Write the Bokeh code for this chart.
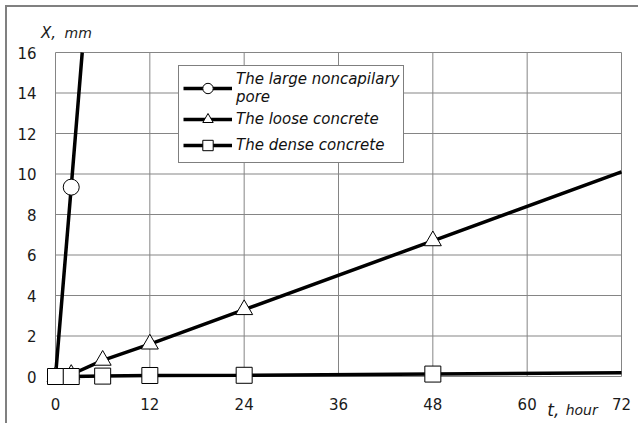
from bokeh.plotting import figure
from bokeh.models import Legend, LegendItem, Label, FixedTicker, Range1d
from bokeh.embed import file_html
from bokeh.resources import INLINE

# ---- Data ----
t_pore = [0, 2, 3.4]
x_pore = [0.0, 9.35, 16.0]
pore_marked = 2  # leading points that carry markers

t_loose = [0, 2, 6, 12, 24, 48, 72]
x_loose = [0.0, 0.1, 0.8, 1.6, 3.3, 6.7, 10.1]
loose_marked = 6

t_dense = [0, 2, 6, 12, 24, 48, 72]
x_dense = [0.0, 0.0, 0.02, 0.05, 0.06, 0.12, 0.18]
dense_marked = 6

x_ticks = [0, 12, 24, 36, 48, 60, 72]
y_ticks = [0, 2, 4, 6, 8, 10, 12, 14, 16]

names = ["The large noncapilary\npore", "The loose concrete", "The dense concrete"]

# ---- Layout (pixels) ----
W, H = 633, 418                 # canvas size (page offset 7px by CSS margin+border)
OFF = 7
PX_LEFT, PX_RIGHT = 55 - OFF, 621 - OFF   # where x=0 / x=72 sit on the canvas
PX_TOP, PX_BOTTOM = 52 - OFF, 376 - OFF   # where y=16 / y=0 sit on the canvas

x0, x1 = x_ticks[0], x_ticks[-1]
y0, y1 = y_ticks[0], y_ticks[-1]
sx = (PX_RIGHT - PX_LEFT) / (x1 - x0)
sy = (PX_BOTTOM - PX_TOP) / (y1 - y0)
xr = Range1d(x0 - PX_LEFT / sx, x1 + (W - PX_RIGHT) / sx)
yr = Range1d(y0 - (H - PX_BOTTOM) / sy, y1 + PX_TOP / sy)

FONT = "DejaVu Sans"
GRID = "#858585"
TXT = "#1a1a1a"

p = figure(width=W, height=H, output_backend="svg", toolbar_location=None,
           x_range=xr, y_range=yr, min_border=0,
           min_border_left=0, min_border_right=0, min_border_top=0, min_border_bottom=0)
p.styles = {"margin-left": "5px", "margin-top": "5px",
            "border-left": "2px solid #808080", "border-top": "2px solid #808080"}
p.background_fill_color = "white"
p.border_fill_color = "white"
p.outline_line_color = None
p.grid.visible = False

for ax in (p.xaxis[0], p.yaxis[0]):
    ax.axis_line_color = None
    ax.major_tick_line_color = None
    ax.minor_tick_line_color = None
    ax.major_tick_out = 0
    ax.major_tick_in = 0
    ax.major_label_text_font = FONT
    ax.major_label_text_font_size = "15px"
    ax.major_label_text_color = TXT
    ax.fixed_location = 0
p.xaxis.ticker = FixedTicker(ticks=x_ticks)
p.yaxis.ticker = FixedTicker(ticks=y_ticks)
p.xaxis.bounds = (x0, x1)
p.yaxis.bounds = (y0, y1)
p.yaxis.major_label_standoff = 19
p.xaxis.major_label_standoff = 21

# grid + plot-area frame, from the tick lists
p.segment(x0=x_ticks, y0=[y0] * len(x_ticks), x1=x_ticks, y1=[y1] * len(x_ticks),
          line_color=GRID, line_width=1)
p.segment(x0=[x0] * len(y_ticks), y0=y_ticks, x1=[x1] * len(y_ticks), y1=y_ticks,
          line_color=GRID, line_width=1)

LW = 3.5
l1 = p.line(t_pore, x_pore, line_color="black", line_width=LW)
m1 = p.scatter(t_pore[:pore_marked], x_pore[:pore_marked], marker="circle", size=16,
               fill_color="white", line_color="black", line_width=1)
l2 = p.line(t_loose, x_loose, line_color="black", line_width=LW)
m2 = p.scatter(t_loose[:loose_marked], x_loose[:loose_marked], marker="triangle", size=17,
               fill_color="white", line_color="black", line_width=1)
l3 = p.line(t_dense, x_dense, line_color="black", line_width=LW)
m3 = p.scatter(t_dense[:dense_marked], x_dense[:dense_marked], marker="square", size=16,
               fill_color="white", line_color="black", line_width=1)

legend = Legend(items=[LegendItem(label=names[0], renderers=[l1, m1]),
                       LegendItem(label=names[1], renderers=[l2, m2]),
                       LegendItem(label=names[2], renderers=[l3, m3])],
                location=(178 - OFF, H - (163 - OFF)))
legend.label_text_font = FONT
legend.label_text_font_style = "italic"
legend.label_text_font_size = "15px"
legend.label_text_line_height = 0.95
legend.label_text_color = "#111111"
legend.label_standoff = 4
legend.glyph_width = 49
legend.glyph_height = 26
legend.spacing = 0
legend.padding = 4
legend.margin = 0
legend.border_line_color = "black"
legend.border_line_width = 1
legend.background_fill_alpha = 1
p.add_layout(legend, "center")

# Axis titles
def lab(x, y, text, size, style="italic"):
    p.add_layout(Label(x=x, y=y, text=text, text_font=FONT, text_font_style=style,
                       text_font_size=size, text_color=TXT,
                       text_align="left", text_baseline="alphabetic"))

lab(-1.85, 16.97, "X,", "15px")
lab(1.15, 16.97, "mm", "14px")
lab(62.55, -1.63, "t,", "17px")
lab(64.9, -1.63, "hour", "14px")

open("out.html", "w").write(file_html(p, INLINE))
